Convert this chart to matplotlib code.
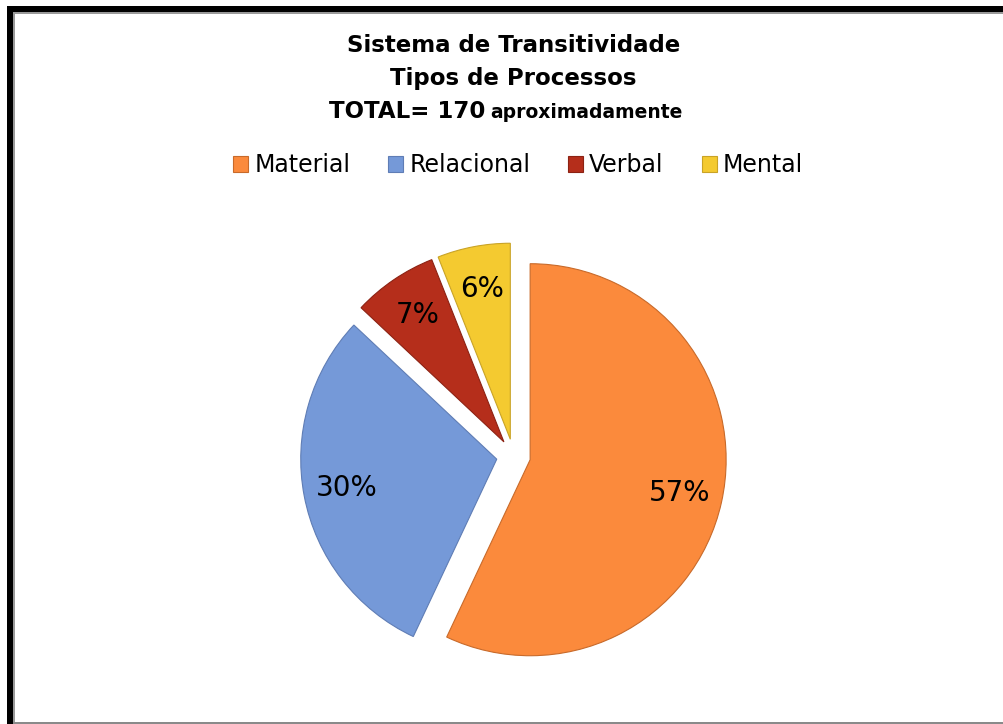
import matplotlib.pyplot as plt
from matplotlib.patches import Rectangle

# dados do grafico
categorias = ["Material", "Relacional", "Verbal", "Mental"]
valores = [57, 30, 7, 6]
cores = ["#FB8A3C", "#7599D8", "#B52E1B", "#F4CA30"]
bordas = ["#C86A2A", "#5F7DB5", "#8C2213", "#C9A326"]

fonte = "DejaVu Sans"

fig = plt.figure(figsize=(10.04, 7.24), dpi=100)
fig.patch.set_facecolor("white")

# moldura preta (topo e esquerda) e linhas cinza
W, H = 1004.0, 724.0
fig.add_artist(Rectangle((7 / W, 0), 6 / W, (H - 6) / H, transform=fig.transFigure,
                         color="black", lw=0))
fig.add_artist(Rectangle((7 / W, (H - 12) / H), (W - 7) / W, 6 / H, transform=fig.transFigure,
                         color="black", lw=0))
fig.add_artist(Rectangle((13 / W, (H - 14) / H), (W - 13) / W, 2 / H, transform=fig.transFigure,
                         color="#9a9a9a", lw=0))
fig.add_artist(Rectangle((13 / W, 0), 2 / W, (H - 12) / H, transform=fig.transFigure,
                         color="#9a9a9a", lw=0))
fig.add_artist(Rectangle((13 / W, 0), (W - 13) / W, 2 / H, transform=fig.transFigure,
                         color="#8a8a8a", lw=0))

# area do pie: raio ~196 px, centro em (513, 456)
r = 196.0
cx, cy = 513.5, 456.0
lado = 2.4 * r
ax = fig.add_axes([(cx - lado / 2) / W, (H - cy - lado / 2) / H, lado / W, lado / H])

wedges, textos, pcts = ax.pie(
    valores, colors=cores, startangle=90, counterclock=False,
    explode=[0.087] * 4, autopct="%.0f%%", pctdistance=0.78,
    wedgeprops=dict(linewidth=0.8),
    textprops=dict(fontsize=20, family=fonte, color="black"))
for w, b in zip(wedges, bordas):
    w.set_edgecolor(b)
ax.set_xlim(-1.2, 1.2)
ax.set_ylim(-1.2, 1.2)
ax.axis("off")

# titulo
fig.text(cx / W, 1 - 46 / H, "Sistema de Transitividade", ha="center", va="center",
         fontsize=16.5, fontweight="bold", family=fonte)
fig.text(cx / W, 1 - 79 / H, "Tipos de Processos", ha="center", va="center",
         fontsize=16.5, fontweight="bold", family=fonte)
fig.text(485 / W, 1 - 112 / H, "TOTAL= 170", ha="right", va="center",
         fontsize=16.5, fontweight="bold", family=fonte)
fig.text(490 / W, 1 - 113 / H, "aproximadamente", ha="left", va="center",
         fontsize=13.5, fontweight="bold", family=fonte)

leg = fig.legend(wedges, categorias, loc="center", bbox_to_anchor=(518 / W, 1 - 165 / H),
                 ncol=4, frameon=False, handlelength=0.65, handleheight=0.65,
                 handletextpad=0.25, columnspacing=1.6,
                 prop=dict(family=fonte, size=17))

fig.savefig("out.png", dpi=100, facecolor="white")
